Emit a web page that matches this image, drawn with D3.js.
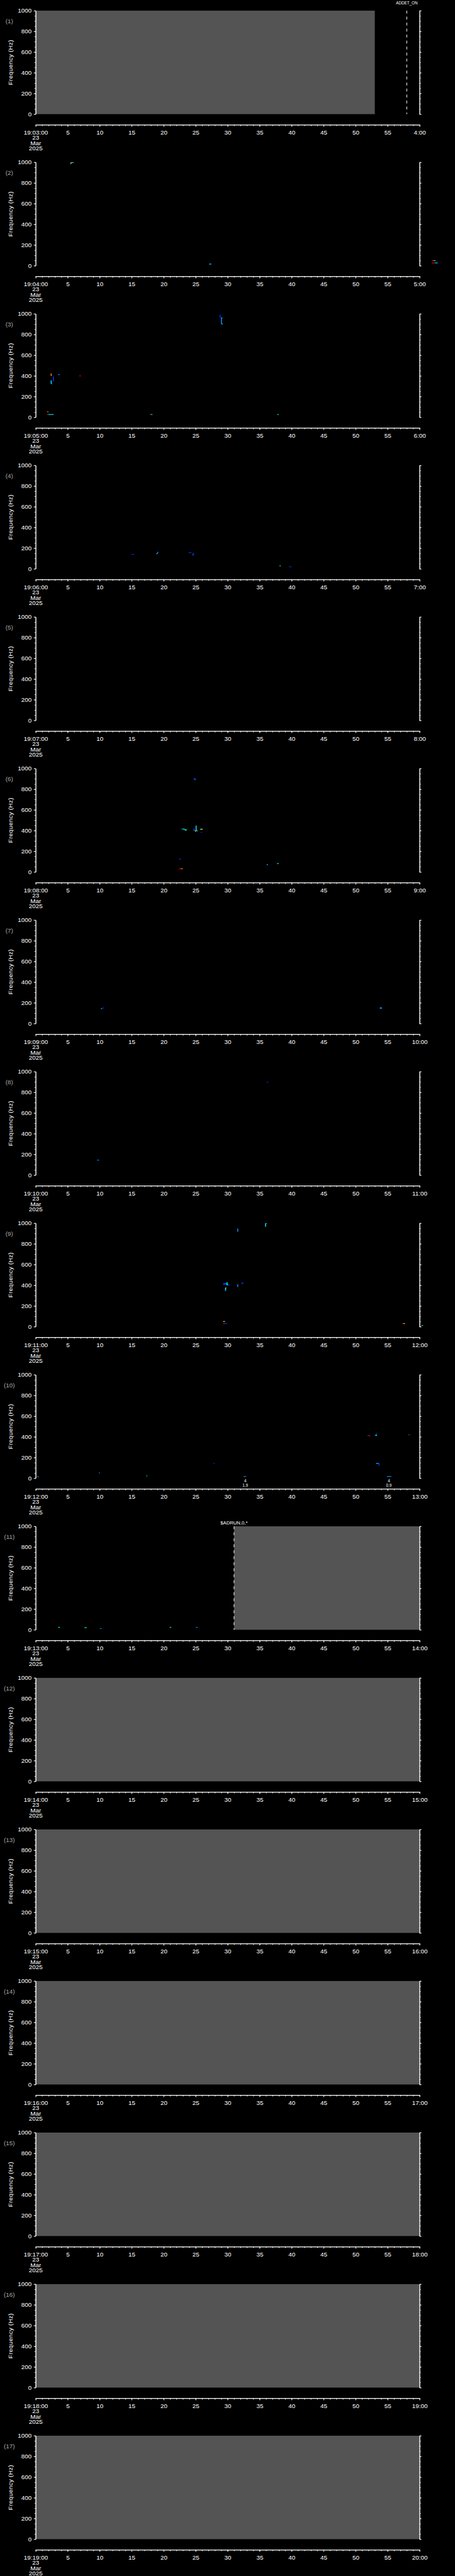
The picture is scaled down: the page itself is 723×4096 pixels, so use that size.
<!DOCTYPE html>
<html>
<head>
<meta charset="utf-8">
<script src="https://cdn.jsdelivr.net/npm/d3@7"></script>
<style>
  html, body { margin: 0; padding: 0; background: #000; }
  svg { display: block; }
  text { font-family: "Liberation Sans", "DejaVu Sans", sans-serif; }
</style>
</head>
<body>
<div id="chart"></div>
<script>
// panels: one minute each, starting 19:03 on 23 Mar 2025
const panelMinutes = [3, 4, 5, 6, 7, 8, 9, 10, 11, 12, 13, 14, 15, 16, 17, 18, 19];
const dateLines = ["23", "Mar", "2025"];
const freqTicks = [0, 200, 400, 600, 800, 1000];

// grey "no data" blocks: [panel, t start (s), t end (s)]
const noData = [
  [1, 0, 53], [11, 31, 60],
  [12, 0, 60], [13, 0, 60], [14, 0, 60], [15, 0, 60], [16, 0, 60], [17, 0, 60]
];

// event markers: [panel, t (s), label, row]
const events = [
  [1, 58, "ADDET_ON", 1],
  [11, 31, "$ADRUN,0,*", 0]
];

// small annotations in panel 10: [panel, t, line1, line2]
const notes = [
  [10, 32.75, "4", "1.9"],
  [10, 55.2, "4", "0.9"]
];

// colour levels (rainbow table)
const levelColors = ["#0030ff", "#0090ff", "#00e4ff", "#00ff70", "#ffff00", "#ff9000", "#ff0000"];

// spectrogram pixels: [panel, t0, t1, f0 (Hz), f1 (Hz), level]
const cells = [
  [2, 5.5, 5.95, 993, 1000, 2], [2, 5.45, 5.6, 985, 998, 5], [2, 5.4, 5.5, 982, 990, 3],
  [2, 27.1, 27.45, 12, 19, 2],
  [2, 61.9, 62.2, 47, 52, 6], [2, 62.2, 62.5, 47, 52, 2],
  [2, 61.9, 62.4, 25, 30, 6], [2, 62.4, 62.8, 25, 30, 2], [2, 62.8, 63.0, 25, 30, 0],

  [3, 28.75, 28.9, 963, 990, 0], [3, 28.95, 29.1, 903, 963, 1], [3, 28.95, 29.2, 955, 965, 1],
  [3, 29.05, 29.25, 898, 905, 2],
  [3, 2.35, 2.5, 399, 423, 5], [3, 2.7, 2.85, 347, 394, 0], [3, 2.35, 2.5, 323, 356, 2],
  [3, 2.4, 2.6, 320, 327, 1], [3, 3.5, 3.75, 410, 416, 1], [3, 6.85, 7.05, 396, 404, 6],
  [3, 1.8, 2.0, 50, 56, 5], [3, 1.8, 2.0, 24, 30, 6], [3, 2.0, 2.8, 24, 30, 2],
  [3, 17.85, 18.0, 24, 30, 6], [3, 18.0, 18.25, 24, 30, 2], [3, 37.75, 38.0, 24, 30, 3],

  [4, 15.0, 15.35, 137, 143, 0],
  [4, 18.8, 19.05, 143, 150, 1], [4, 19.0, 19.1, 145, 162, 1], [4, 19.05, 19.2, 158, 163, 1],
  [4, 23.9, 24.35, 154, 160, 0], [4, 24.5, 24.65, 126, 146, 0], [4, 24.6, 24.75, 140, 147, 1],
  [4, 38.1, 38.3, 26, 32, 3], [4, 39.6, 40.0, 17, 23, 0],

  [6, 24.7, 24.95, 896, 908, 0], [6, 24.85, 25.0, 888, 898, 1],
  [6, 22.8, 23.05, 412, 420, 1], [6, 23.05, 23.3, 408, 418, 2], [6, 23.3, 23.6, 400, 412, 3],
  [6, 24.65, 24.9, 398, 418, 0], [6, 24.9, 25.05, 390, 400, 4], [6, 25.0, 25.15, 396, 448, 2],
  [6, 25.15, 25.3, 397, 401, 4], [6, 25.7, 26.1, 409, 417, 4], [6, 25.75, 26.0, 412, 416, 2],
  [6, 25.8, 26.0, 380, 386, 0], [6, 22.4, 22.75, 122, 128, 0],
  [6, 22.4, 22.7, 28, 34, 6], [6, 22.7, 23.0, 28, 34, 5],
  [6, 36.1, 36.3, 66, 76, 1], [6, 37.7, 38.0, 79, 85, 2],

  [7, 10.2, 10.4, 142, 147, 2], [7, 10.4, 10.7, 146, 153, 0], [7, 53.8, 54.1, 142, 157, 1],

  [8, 36.1, 36.35, 896, 901, 0], [8, 9.6, 9.9, 142, 148, 1],

  [9, 35.85, 36.0, 965, 998, 2], [9, 35.9, 36.1, 993, 999, 2], [9, 31.5, 31.65, 917, 948, 1],
  [9, 29.3, 29.8, 404, 422, 0], [9, 29.8, 30.0, 406, 428, 3], [9, 29.85, 30.05, 400, 410, 2],
  [9, 29.6, 29.75, 346, 375, 2], [9, 29.65, 29.8, 370, 377, 4], [9, 30.05, 30.3, 398, 406, 0],
  [9, 31.5, 31.65, 383, 408, 1], [9, 32.1, 32.4, 412, 420, 0], [9, 32.3, 32.45, 418, 430, 0],
  [9, 29.3, 29.5, 47, 53, 4], [9, 29.45, 29.6, 47, 53, 2],
  [9, 29.3, 29.6, 27, 33, 6], [9, 29.6, 29.9, 27, 33, 0],
  [9, 57.3, 57.5, 27, 33, 6], [9, 57.5, 57.7, 27, 33, 4],
  [9, 60.0, 60.2, 77, 83, 0], [9, 60.3, 60.55, 9, 15, 3],

  [10, 0.25, 0.5, 12, 18, 1], [10, 9.9, 10.05, 48, 55, 1], [10, 17.3, 17.45, 20, 26, 2],
  [10, 27.8, 28.0, 141, 147, 0], [10, 32.5, 32.9, 15, 20, 1],
  [10, 51.85, 52.05, 410, 416, 0], [10, 52.05, 52.3, 408, 413, 6],
  [10, 53.1, 53.3, 408, 422, 2], [10, 53.25, 53.35, 428, 438, 0],
  [10, 53.2, 53.6, 140, 146, 2], [10, 53.6, 53.75, 120, 146, 0],
  [10, 58.2, 58.35, 416, 423, 0], [10, 58.35, 58.5, 416, 423, 6],
  [10, 54.9, 55.6, 15, 20, 1],

  [11, 3.5, 3.8, 21, 27, 3], [11, 7.6, 8.0, 18, 24, 3], [11, 10.05, 10.3, 10, 15, 1],
  [11, 20.95, 21.2, 21, 27, 2], [11, 25.05, 25.3, 21, 27, 1]
];

//reference size and scale to window
const refW = 1024, refH = 5802;
const k = 723 / refW;

const layout = {
  first: 24, step: 341.33,
  left: 80.3, right: 944.3, plotH: 233, axisY: 257
};

const svg = d3.select("#chart").append("svg")
  .attr("width", 723).attr("height", 4096);

svg.append("rect").attr("width", 723).attr("height", 4096).attr("fill", "#000");

const root = svg.append("g").attr("transform", `scale(${k})`);

const x = d3.scaleLinear().domain([0, 60]).range([layout.left, layout.right]);
const y = d3.scaleLinear().domain([0, 1000]).range([layout.plotH, 0]);
const color = d3.scaleOrdinal().domain(d3.range(levelColors.length)).range(levelColors);

const pad2 = n => String(n).padStart(2, "0");

function styleAxis(g) {
  g.selectAll("path, line").attr("stroke", "#fff").attr("stroke-width", 1.3);
  g.selectAll("text").attr("fill", "#fff").attr("font-size", 14)
    .style("font-family", '"Liberation Sans", sans-serif');
}

panelMinutes.forEach((m, i) => {
  const p = i + 1;
  const top = layout.first + i * layout.step;
  const g = root.append("g").attr("transform", `translate(0,${top})`);

  //grey no-data blocks
  g.selectAll(".nodata")
    .data(noData.filter(d => d[0] === p))
    .join("rect")
    .attr("class", "nodata")
    .attr("x", d => x(d[1]))
    .attr("width", d => x(d[2]) - x(d[1]))
    .attr("y", 0)
    .attr("height", layout.plotH)
    .attr("fill", "#545454");

  //spectrogram pixels
  g.selectAll(".cell")
    .data(cells.filter(d => d[0] === p))
    .join("rect")
    .attr("class", "cell")
    .attr("x", d => x(d[1]))
    .attr("width", d => Math.max(x(d[2]) - x(d[1]), 1.6))
    .attr("y", d => y(d[4]))
    .attr("height", d => Math.max(y(d[3]) - y(d[4]), 1.6))
    .attr("fill", d => color(d[5]));

  //event lines
  const ev = events.filter(d => d[0] === p);
  g.selectAll(".evline").data(ev).join("line")
    .attr("class", "evline")
    .attr("x1", d => x(d[1])).attr("x2", d => x(d[1]))
    .attr("y1", 0).attr("y2", layout.plotH)
    .attr("stroke", "#fff").attr("stroke-width", 1.4)
    .attr("stroke-dasharray", "6.5,7");
  g.selectAll(".evlabel").data(ev).join("text")
    .attr("class", "evlabel")
    .attr("x", d => x(d[1]))
    .attr("y", d => d[3] === 1 ? -14 : -4.5)
    .attr("text-anchor", "middle")
    .attr("fill", "#fff")
    .attr("font-size", 11)
    .attr("textLength", d => d[2].length * 6.1)
    .attr("lengthAdjust", "spacingAndGlyphs")
    .text(d => d[2]);

  //small notes
  const nt = notes.filter(d => d[0] === p);
  g.selectAll(".note1").data(nt).join("text")
    .attr("class", "note1")
    .attr("x", d => x(d[1])).attr("y", layout.plotH + 9)
    .attr("text-anchor", "middle").attr("fill", "#fff").attr("font-size", 9)
    .text(d => d[2]);
  g.selectAll(".note2").data(nt).join("text")
    .attr("class", "note2")
    .attr("x", d => x(d[1])).attr("y", layout.plotH + 19)
    .attr("text-anchor", "middle").attr("fill", "#fff").attr("font-size", 9)
    .text(d => d[3]);

  //left y axis (major + minor)
  const yl = g.append("g").attr("transform", `translate(${layout.left},0)`)
    .call(d3.axisLeft(y).tickValues(freqTicks).tickSize(4.3).tickSizeOuter(0).tickPadding(5)
      .tickFormat(d3.format("d")));
  g.append("g").attr("transform", `translate(${layout.left},0)`)
    .call(d3.axisLeft(y).tickValues(d3.range(0, 1001, 50)).tickSize(2.7).tickSizeOuter(0).tickFormat(""))
    .call(styleAxis);
  yl.call(styleAxis);

  //right y axis
  g.append("g").attr("transform", `translate(${layout.right},0)`)
    .call(d3.axisRight(y).tickValues(freqTicks).tickSize(4.3).tickSizeOuter(0).tickFormat(""))
    .call(styleAxis);
  g.append("g").attr("transform", `translate(${layout.right},0)`)
    .call(d3.axisRight(y).tickValues(d3.range(0, 1001, 50)).tickSize(2.7).tickSizeOuter(0).tickFormat(""))
    .call(styleAxis);

  //x axis (time)
  const xa = g.append("g").attr("transform", `translate(0,${layout.axisY})`)
    .call(d3.axisBottom(x).tickValues(d3.range(0, 61, 5)).tickSize(4.5).tickSizeOuter(0).tickPadding(7.5)
      .tickFormat(d => d === 0 ? `19:${pad2(m)}:00` : d === 60 ? `${m + 1}:00` : d));
  g.append("g").attr("transform", `translate(0,${layout.axisY})`)
    .call(d3.axisBottom(x).tickValues(d3.range(0, 61, 1)).tickSize(3).tickSizeOuter(0).tickFormat(""))
    .call(styleAxis);
  xa.call(styleAxis);

  g.selectAll(".dateline").data(dateLines).join("text")
    .attr("class", "dateline")
    .attr("x", x(0))
    .attr("y", (d, j) => layout.axisY + 34 + j * 12)
    .attr("text-anchor", "middle")
    .attr("fill", "#fff").attr("font-size", 14)
    .text(d => d);

  //panel number and axis title
  g.append("text")
    .attr("x", 21).attr("y", 23).attr("dy", "0.35em")
    .attr("text-anchor", "middle").attr("fill", "#a8a8a8").attr("font-size", 14)
    .text(`(${p})`);
  g.append("text")
    .attr("transform", `translate(23,${layout.plotH / 2}) rotate(-90)`)
    .attr("dy", "0.35em")
    .attr("text-anchor", "middle").attr("fill", "#fff").attr("font-size", 14)
    .attr("letter-spacing", 0.4)
    .text("Frequency (Hz)");
});
</script>
</body>
</html>
